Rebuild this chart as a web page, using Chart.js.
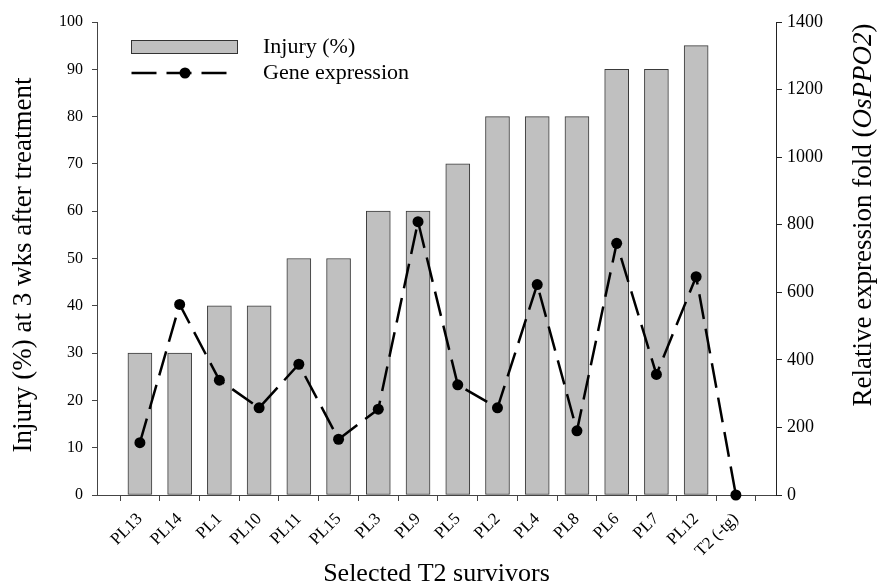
<!DOCTYPE html>
<html>
<head>
<meta charset="utf-8">
<script src="https://cdn.jsdelivr.net/npm/chart.js@4.4.1/dist/chart.umd.min.js"></script>
<style>
  html, body { margin: 0; padding: 0; background: #ffffff; }
  #wrap { width: 877px; height: 588px; position: relative; }
</style>
</head>
<body>
<div id="wrap"><canvas id="c" width="877" height="588"></canvas></div>
<script>
// ---- data ----
const categories = ['PL13','PL14','PL1','PL10','PL11','PL15','PL3','PL9','PL5','PL2','PL4','PL8','PL6','PL7','PL12','T2 (-tg)'];
const injuryPct = [30, 30, 40, 40, 50, 50, 60, 60, 70, 80, 80, 80, 90, 90, 95, null];
const geneExpression = [155, 564, 340, 258, 387, 165, 254, 809, 326, 258, 623, 190, 745, 357, 646, 0];
const leftTicks = { min: 0, max: 100, step: 10 };
const rightTicks = { min: 0, max: 1400, step: 200 };

const SERIF = '"Liberation Serif", "Times New Roman", serif';
const AXIS_COLOR = '#444444';

const barData = categories.map((c, i) => ({ x: i, y: injuryPct[i] }));
const lineData = categories.map((c, i) => ({ x: i, y: geneExpression[i] }));

function drawRotated(ctx, parts, cx, cy) {
  let total = 0;
  parts.forEach(p => { ctx.font = p.f; p.w = ctx.measureText(p.t).width; total += p.w; });
  ctx.save();
  ctx.translate(cx, cy);
  ctx.rotate(-Math.PI / 2);
  ctx.textBaseline = 'middle';
  ctx.textAlign = 'left';
  ctx.fillStyle = '#000';
  let x = -total / 2;
  parts.forEach(p => { ctx.font = p.f; ctx.fillText(p.t, x, 0); x += p.w; });
  ctx.restore();
}

// legend + vertical axis titles drawn as real text on the canvas
const overlay = {
  id: 'overlay',
  afterDraw(chart) {
    const ctx = chart.ctx;
    ctx.save();
    // legend
    ctx.fillStyle = '#c0c0c0';
    ctx.strokeStyle = '#333333';
    ctx.lineWidth = 1;
    ctx.fillRect(131.5, 40.5, 106, 13);
    ctx.strokeRect(131.5, 40.5, 106, 13);
    ctx.beginPath();
    ctx.setLineDash([25, 10]);
    ctx.lineWidth = 2.5;
    ctx.strokeStyle = '#000';
    ctx.moveTo(131.5, 73);
    ctx.lineTo(228, 73);
    ctx.stroke();
    ctx.setLineDash([]);
    ctx.beginPath();
    ctx.fillStyle = '#000';
    ctx.arc(185, 73, 5.5, 0, Math.PI * 2);
    ctx.fill();
    ctx.font = '22px ' + SERIF;
    ctx.textBaseline = 'middle';
    ctx.textAlign = 'left';
    ctx.fillText('Injury (%)', 263, 47);
    ctx.fillText('Gene expression', 263, 73);
    ctx.restore();

    // left axis title
    drawRotated(ctx, [{ t: 'Injury (%) at 3 wks after treatment', f: '27px ' + SERIF }], 24, 265);
    // right axis title with italic gene name
    drawRotated(ctx, [
      { t: 'Relative expression fold (', f: '27px ' + SERIF },
      { t: 'OsPPO2', f: 'italic 27px ' + SERIF },
      { t: ')', f: '27px ' + SERIF }
    ], 864, 215);
  }
};

new Chart(document.getElementById('c'), {
  type: 'bar',
  data: {
    datasets: [
      {
        type: 'line',
        label: 'Gene expression',
        data: lineData,
        yAxisID: 'y1',
        xAxisID: 'x',
        borderColor: '#000000',
        backgroundColor: '#000000',
        borderWidth: 2.5,
        borderDash: [25, 10],
        pointRadius: 5.5,
        pointHoverRadius: 5.5,
        pointBackgroundColor: '#000000',
        pointBorderWidth: 0,
        tension: 0,
        fill: false,
        clip: false,
        order: 0
      },
      {
        type: 'bar',
        label: 'Injury (%)',
        data: barData,
        yAxisID: 'y',
        xAxisID: 'x',
        backgroundColor: '#c0c0c0',
        borderColor: '#3a3a3a',
        borderWidth: 1,
        borderSkipped: false,
        barThickness: 24,
        order: 1
      }
    ]
  },
  options: {
    responsive: false,
    animation: false,
    devicePixelRatio: 1,
    layout: { padding: { top: 22, left: 0, right: 0, bottom: 0 } },
    plugins: { legend: { display: false }, tooltip: { enabled: false } },
    scales: {
      x: {
        type: 'linear',
        position: 'bottom',
        min: -1.08,
        max: 16.01,
        offset: false,
        afterBuildTicks: (scale) => { scale.ticks = categories.map((c, i) => ({ value: i })); },
        afterFit: (scale) => { scale.height = 93; },
        ticks: {
          autoSkip: false,
          minRotation: 45,
          maxRotation: 45,
          padding: 8,
          color: '#000',
          font: { family: SERIF, size: 17 },
          callback: (v) => categories[v]
        },
        grid: { display: true, drawOnChartArea: false, drawTicks: true, tickLength: 6, color: AXIS_COLOR },
        border: { display: true, color: AXIS_COLOR, width: 1 },
        title: {
          display: true,
          text: 'Selected T2 survivors',
          color: '#000',
          font: { family: SERIF, size: 26, lineHeight: 0.8 },
          padding: { top: 0, bottom: 3 }
        }
      },
      y: {
        position: 'left',
        min: leftTicks.min,
        max: leftTicks.max,
        afterFit: (scale) => { scale.width = 97; },
        ticks: { stepSize: leftTicks.step, padding: 9, color: '#000', font: { family: SERIF, size: 16 } },
        grid: { display: true, drawOnChartArea: false, drawTicks: true, tickLength: 5, color: AXIS_COLOR },
        border: { display: true, color: AXIS_COLOR, width: 1 }
      },
      y1: {
        position: 'right',
        min: rightTicks.min,
        max: rightTicks.max,
        afterFit: (scale) => { scale.width = 101; },
        ticks: {
          stepSize: rightTicks.step, padding: 5, color: '#000', font: { family: SERIF, size: 18 },
          callback: (v) => String(v)
        },
        grid: { display: true, drawOnChartArea: false, drawTicks: true, tickLength: 6, color: '#222' },
        border: { display: true, color: '#222', width: 1 }
      }
    }
  },
  plugins: [overlay]
});
</script>
</body>
</html>
